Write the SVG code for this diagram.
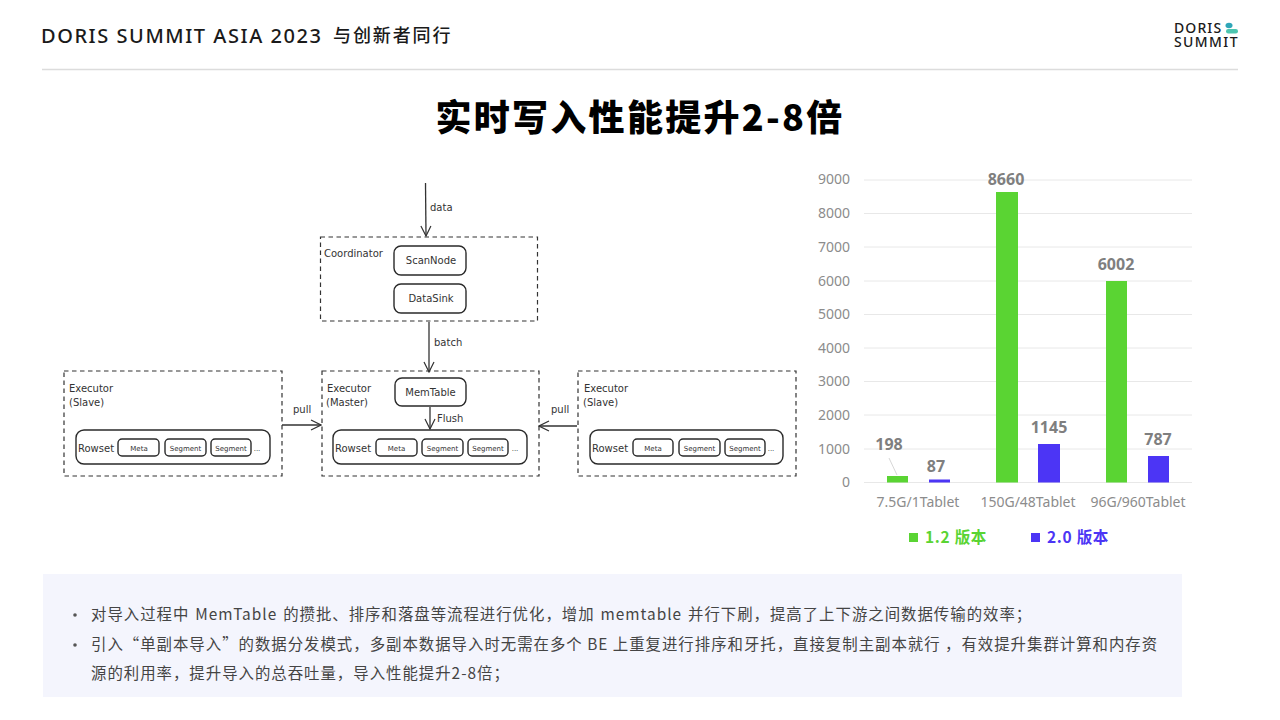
<svg xmlns="http://www.w3.org/2000/svg" width="1280" height="720" viewBox="0 0 1280 720">
<defs>
<marker id="arr" viewBox="0 0 12 12" refX="11" refY="6" markerWidth="12" markerHeight="12" markerUnits="userSpaceOnUse" orient="auto"><path d="M1 1L11 6L1 11" fill="none" stroke="#333" stroke-width="1.2"/></marker>
</defs>
<style>
text{font-family:"Noto Sans","Noto Sans CJK SC",sans-serif}
.cjk{font-family:"Noto Sans CJK SC",sans-serif}
.dash{fill:#fff;stroke:#333;stroke-width:1.2;stroke-dasharray:4.5 3.5}
.box{fill:#fff;stroke:#2a2a2a;stroke-width:1.4}
.hand{font-family:"DejaVu Sans",sans-serif;fill:#333;font-size:10px}
.small{font-family:"DejaVu Sans",sans-serif;fill:#333;font-size:7px;text-anchor:middle}
.mid{text-anchor:middle}
.conn{stroke:#333;stroke-width:1.3;fill:none;marker-end:url(#arr)}
.grid{stroke:#e8e8e8;stroke-width:1}
.axis{font-size:14px;fill:#8c8c8c;text-anchor:end}
.cat{font-size:14px;fill:#8c8c8c;text-anchor:middle}
.val{font-size:16px;font-weight:700;fill:#7f7f7f;text-anchor:middle}
.g{fill:#5ad433}.b{fill:#4c35f5}
.note{font-family:"Noto Sans CJK SC",sans-serif;font-size:15.4px;fill:#444;letter-spacing:1px}
</style>
<rect width="1280" height="720" fill="#fff"/>
<g id="header">
<text x="41" y="43" font-size="20" letter-spacing="1.55" fill="#1a1a1a" font-weight="500">DORIS SUMMIT ASIA 2023</text>
<text x="333" y="42" class="cjk" font-size="18" letter-spacing="1.9" fill="#1a1a1a" font-weight="500">与创新者同行</text>
<line x1="42" y1="69.500" x2="1238" y2="69.500" stroke="#dcdcdc" stroke-width="1.500"/>
</g>
<g id="logo">
<text font-size="14" fill="#1a1a1a" font-weight="500"><tspan x="1174" y="33" letter-spacing="1.1">DORIS</tspan><tspan x="1174" y="47" letter-spacing="1.4">SUMMIT</tspan></text>
<ellipse cx="1229" cy="25.500" rx="3.500" ry="2.800" fill="#2fa6b8"/>
<rect x="1226" y="29" width="12" height="4.500" rx="2.200" fill="#4cc5b0"/>
</g>
<text id="title" x="640" y="131" class="cjk mid" font-size="36" font-weight="900" letter-spacing="2.3" fill="#000">实时写入性能提升2-8倍</text>

<g id="coordinator">
<rect class="dash" x="320.500" y="237" width="217" height="84"/>
<text x="324" y="257" class="hand">Coordinator</text>
</g>
<g id="scannode"><rect class="box" x="394" y="246" width="72" height="29" rx="7"/><text x="431" y="264" class="hand mid">ScanNode</text></g>
<g id="datasink"><rect class="box" x="394" y="284" width="72" height="29" rx="7"/><text x="431" y="302" class="hand mid">DataSink</text></g>

<g id="executor-left">
<rect class="dash" x="64" y="371" width="218" height="105"/>
<text x="69" y="392" class="hand">Executor</text><text x="69" y="406" class="hand">(Slave)</text>
<rect class="box" x="76" y="430" width="194" height="34" rx="8"/>
<text x="78" y="452" class="hand" font-size="11">Rowset</text>
<rect class="box" x="118" y="439" width="41" height="17" rx="4"/><text x="139" y="451" class="small">Meta</text>
<rect class="box" x="165" y="439" width="41" height="17" rx="4"/><text x="185.500" y="451" class="small">Segment</text>
<rect class="box" x="211" y="439" width="40" height="17" rx="4"/><text x="231" y="451" class="small">Segment</text>
<text x="257" y="451" class="small">...</text>
</g>
<g id="executor-master">
<rect class="dash" x="322" y="371" width="217" height="105"/>
<text x="327" y="392" class="hand">Executor</text><text x="326" y="406" class="hand">(Master)</text>
<rect class="box" x="395" y="378" width="71" height="28" rx="7"/><text x="430.500" y="396" class="hand mid">MemTable</text>
<rect class="box" x="333" y="430" width="194" height="34" rx="8"/>
<text x="335" y="452" class="hand" font-size="11">Rowset</text>
<rect class="box" x="376" y="439" width="41" height="17" rx="4"/><text x="396.500" y="451" class="small">Meta</text>
<rect class="box" x="422" y="439" width="41" height="17" rx="4"/><text x="442.500" y="451" class="small">Segment</text>
<rect class="box" x="468" y="439" width="40" height="17" rx="4"/><text x="488" y="451" class="small">Segment</text>
<text x="515" y="451" class="small">...</text>
</g>
<g id="executor-right">
<rect class="dash" x="578" y="371" width="218" height="105"/>
<text x="584" y="392" class="hand">Executor</text><text x="583" y="406" class="hand">(Slave)</text>
<rect class="box" x="590" y="430" width="193" height="34" rx="8"/>
<text x="592" y="452" class="hand" font-size="11">Rowset</text>
<rect class="box" x="633" y="439" width="40" height="17" rx="4"/><text x="653" y="451" class="small">Meta</text>
<rect class="box" x="679" y="439" width="41" height="17" rx="4"/><text x="699.500" y="451" class="small">Segment</text>
<rect class="box" x="725" y="439" width="40" height="17" rx="4"/><text x="745" y="451" class="small">Segment</text>
<text x="771" y="451" class="small">...</text>
</g>
<g id="connectors">
<path class="conn" d="M425.500 183L426 236"/>
<path class="conn" d="M429 322L429 372"/>
<path class="conn" d="M430 407L430 429"/>
<path class="conn" d="M282 425L321 425"/>
<path class="conn" d="M577 426L539 426"/>
</g>
<g id="labels">
<text x="430" y="211" class="hand">data</text>
<text x="434" y="346" class="hand">batch</text>
<text x="437" y="422" class="hand" font-size="11">Flush</text>
<text x="293" y="413" class="hand">pull</text>
<text x="551" y="413" class="hand">pull</text>
</g>

<g id="chart">
<g class="grid"><line x1="864" y1="180" x2="1192" y2="180"/><line x1="864" y1="213.500" x2="1192" y2="213.500"/><line x1="864" y1="247" x2="1192" y2="247"/><line x1="864" y1="281" x2="1192" y2="281"/><line x1="864" y1="314.500" x2="1192" y2="314.500"/><line x1="864" y1="348" x2="1192" y2="348"/><line x1="864" y1="381.500" x2="1192" y2="381.500"/><line x1="864" y1="415" x2="1192" y2="415"/><line x1="864" y1="449" x2="1192" y2="449"/><line x1="864" y1="482.500" x2="1192" y2="482.500"/></g>
<text class="axis" x="850" y="184">9000</text><text class="axis" x="850" y="218">8000</text><text class="axis" x="850" y="252">7000</text><text class="axis" x="850" y="286">6000</text><text class="axis" x="850" y="319">5000</text><text class="axis" x="850" y="353">4000</text><text class="axis" x="850" y="386">3000</text><text class="axis" x="850" y="420">2000</text><text class="axis" x="850" y="454">1000</text><text class="axis" x="850" y="487">0</text>
<rect class="g" x="887" y="476" width="21" height="6.500"/><rect class="b" x="929" y="479.500" width="21" height="3"/>
<rect class="g" x="996" y="192" width="22" height="290.500"/><rect class="b" x="1038" y="444" width="22" height="38.500"/>
<rect class="g" x="1106" y="281" width="21" height="201.500"/><rect class="b" x="1148" y="456" width="21" height="26.500"/>
<line x1="889" y1="458" x2="897" y2="475" stroke="#ccc" stroke-width="0.800"/>
<text class="val" x="889" y="450">198</text><text class="val" x="936" y="472">87</text>
<text class="val" x="1006" y="185">8660</text><text class="val" x="1049" y="433">1145</text>
<text class="val" x="1116" y="270">6002</text><text class="val" x="1158" y="445">787</text>
<text class="cat" x="918" y="507">7.5G/1Tablet</text><text class="cat" x="1028" y="507">150G/48Tablet</text><text class="cat" x="1138" y="507">96G/960Tablet</text>
<rect class="g" x="909" y="533" width="9" height="9"/>
<text x="925" y="543" class="cjk" font-size="15.500" letter-spacing="0.7" font-weight="700" fill="#5ad433">1.2 版本</text>
<rect class="b" x="1031" y="533" width="9" height="9"/>
<text x="1047" y="543" class="cjk" font-size="15.500" letter-spacing="0.7" font-weight="700" fill="#4c35f5">2.0 版本</text>
</g>

<g id="notes">
<rect x="43" y="574" width="1139" height="123" fill="#f4f5fd"/>
<circle cx="75" cy="615" r="1.800" fill="#555"/>
<circle cx="75" cy="645" r="1.800" fill="#555"/>
<text class="note" x="91" y="620" word-spacing="1.5">对导入过程中 MemTable 的攒批、排序和落盘等流程进行优化，增加 memtable 并行下刷，提高了上下游之间数据传输的效率；</text>
<text class="note" x="91" y="650">引入“单副本导入”的数据分发模式，多副本数据导入时无需在多个 BE 上重复进行排序和牙托，直接复制主副本就行 ，有效提升集群计算和内存资</text>
<text class="note" x="91" y="679">源的利用率，提升导入的总吞吐量，导入性能提升2-8倍；</text>
</g>
</svg>
